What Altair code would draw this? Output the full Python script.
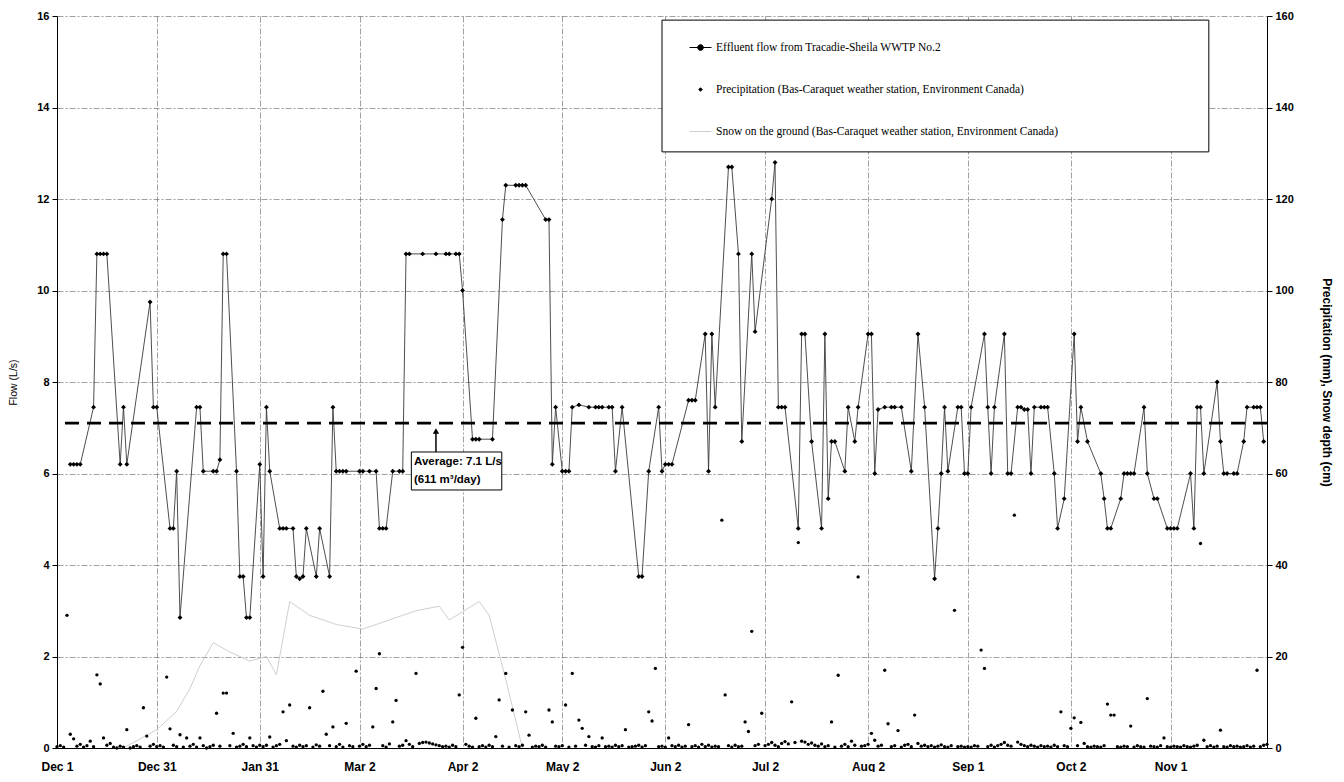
import altair as alt
import pandas as pd

# ---------------- x axis (days since Dec 1) ----------------
tick_days = [0, 30, 61, 91, 122, 152, 183, 213, 244, 274, 305, 335]
tick_labels = ["Dec 1", "Dec 31", "Jan 31", "Mar 2", "Apr 2", "May 2",
               "Jun 2", "Jul 2", "Aug 2", "Sep 1", "Oct 2", "Nov 1"]
month_offsets = [0, 31, 62, 90, 121, 151, 182, 212, 243, 274, 304, 335]

# ---------------- effluent flow (L/s) ----------------
flow_day = [4, 5, 6, 7, 11, 12, 13, 14, 15, 19, 20, 21, 28, 29, 30, 34, 35, 36, 37,
            42, 43, 44, 47, 48, 49, 50, 51, 54, 55, 56, 57, 58, 61, 62, 63, 64,
            67, 68, 69, 71, 72, 73, 74, 75, 78, 79, 82, 83, 84, 85, 86, 87,
            91, 92, 94, 96, 97, 98, 99, 101, 103, 104, 105, 106, 110, 114, 117, 118,
            120, 121, 122, 125, 126, 127, 131, 134, 135, 138, 139, 140, 141, 147, 148,
            149, 150, 152, 153, 154, 155, 157, 160, 162, 163, 164, 166, 167, 168, 170,
            175, 176, 178, 181, 182, 183, 184, 185, 190, 191, 192, 195, 196, 197, 198,
            202, 203, 205, 206, 209, 210, 215, 216, 217, 218, 219, 223, 224, 225, 227,
            230, 231, 232, 233, 234, 237, 238, 240, 241, 244, 245, 246, 247, 249, 251,
            252, 254, 257, 259, 261, 264, 265, 266, 267, 268, 271, 272, 273, 274, 275,
            279, 280, 281, 282, 285, 286, 287, 289, 290, 291, 292, 293, 294, 296, 297,
            298, 300, 301, 303, 306, 307, 308, 310, 314, 315, 316, 317, 320, 321, 322,
            323, 324, 327, 328, 330, 331, 334, 335, 336, 337, 341, 342, 343, 344, 345,
            349, 350, 351, 352, 354, 355, 357, 358, 360, 361, 362, 363]
flow_ls = [6.2, 6.2, 6.2, 6.2, 7.45, 10.8, 10.8, 10.8, 10.8, 6.2, 7.45, 6.2, 9.75, 7.45, 7.45, 4.8, 4.8, 6.05, 2.85,
           7.45, 7.45, 6.05, 6.05, 6.05, 6.3, 10.8, 10.8, 6.05, 3.75, 3.75, 2.85, 2.85, 6.2, 3.75, 7.45, 6.05,
           4.8, 4.8, 4.8, 4.8, 3.75, 3.7, 3.75, 4.8, 3.75, 4.8, 3.75, 7.45, 6.05, 6.05, 6.05, 6.05,
           6.05, 6.05, 6.05, 6.05, 4.8, 4.8, 4.8, 6.05, 6.05, 6.05, 10.8, 10.8, 10.8, 10.8, 10.8, 10.8,
           10.8, 10.8, 10.0, 6.75, 6.75, 6.75, 6.75, 11.55, 12.3, 12.3, 12.3, 12.3, 12.3, 11.55, 11.55,
           6.2, 7.45, 6.05, 6.05, 6.05, 7.45, 7.5, 7.45, 7.45, 7.45, 7.45, 7.45, 7.45, 6.05, 7.45,
           3.75, 3.75, 6.05, 7.45, 6.05, 6.2, 6.2, 6.2, 7.6, 7.6, 7.6, 9.05, 6.05, 9.05, 7.45,
           12.7, 12.7, 10.8, 6.7, 10.8, 9.1, 12.0, 12.8, 7.45, 7.45, 7.45, 4.8, 9.05, 9.05, 6.7,
           4.8, 9.05, 5.45, 6.7, 6.7, 6.05, 7.45, 6.7, 7.45, 9.05, 9.05, 6.0, 7.4, 7.45, 7.45,
           7.45, 7.45, 6.05, 9.05, 7.45, 3.7, 4.8, 6.0, 7.45, 6.05, 7.45, 7.45, 6.0, 6.0, 7.45,
           9.05, 7.45, 6.0, 7.45, 9.05, 6.0, 6.0, 7.45, 7.45, 7.4, 7.4, 6.0, 7.45, 7.45, 7.45,
           7.45, 6.0, 4.8, 5.45, 9.05, 6.7, 7.45, 6.7, 6.0, 5.45, 4.8, 4.8, 5.45, 6.0, 6.0,
           6.0, 6.0, 7.45, 6.0, 5.45, 5.45, 4.8, 4.8, 4.8, 4.8, 6.0, 4.8, 7.45, 7.45, 6.0,
           8.0, 6.7, 6.0, 6.0, 6.0, 6.0, 6.7, 7.45, 7.45, 7.45, 7.45, 6.7]

# ---------------- daily precipitation (mm), one list per month ----------------
precip_dec = [0.3, 0.5, 0.2, 29, 3, 2, 0.4, 0.8, 0.2, 0.5, 1.5, 0.3, 16, 14, 2.2, 0.6, 1.0, 0.2, 0, 0.4,
              0.2, 4, 0, 0.3, 0.5, 0.2, 8.8, 2.6, 0.4, 0.8, 0.3]
precip_jan = [0.5, 0.2, 15.5, 4.2, 0.6, 0.3, 2.9, 0.2, 2.2, 0.4, 0.8, 0.2, 2.2, 0.5, 0, 0.3, 0.6, 7.6, 0.4,
              12, 12, 0.5, 3.2, 0.2, 0.4, 0.8, 0.3, 2.2, 0.5, 0.2, 0.6]
precip_feb = [0.3, 0.6, 2.4, 0.2, 0.5, 0.8, 7.9, 1.6, 9.4, 0.4, 0.2, 0.6, 0.3, 0.5, 8.8, 0.2, 0.7, 0.4,
              12.4, 3, 0.5, 4.6, 0.3, 0.8, 0.2, 5.4, 0.5, 0.3]
precip_mar = [16.8, 0.4, 0.8, 0.3, 0.6, 4.6, 13, 20.6, 0.5, 0.2, 0.9, 5.7, 10.4, 0.4, 0.6, 1.6, 0.8, 0.3,
              16.3, 1.0, 1.2, 1.3, 1.1, 0.9, 0.7, 0.5, 0.3, 0.4, 0.2, 0.6, 0.3]
precip_apr = [11.6, 22, 0.8, 0.4, 0.2, 6.5, 0.3, 0.5, 0.2, 0.6, 0.3, 2.5, 10.5, 0.4, 16.3, 0.2, 8.3, 0.5,
              0.3, 0.6, 7.9, 2.8, 0.2, 0.4, 0.3, 0.6, 0.2, 8.3, 5.7, 0.4]
precip_may = [0.3, 0.5, 9.4, 0.2, 16.3, 0.4, 6.1, 4.3, 0.6, 2.5, 0.3, 0.2, 0.5, 2.2, 0.3, 0.4, 0.2, 0.6,
              0.3, 0.5, 4.0, 0.2, 0.3, 0.4, 0.6, 0.2, 0.5, 7.9, 5.9, 17.4, 0.3]
precip_jun = [0.4, 0.2, 2.2, 0.5, 0.3, 0.6, 0.2, 0.4, 5.1, 0.3, 0.5, 0.2, 0.8, 0.3, 0.6, 0.2, 0.4, 0.3,
              49.8, 11.6, 0.5, 0.2, 0.6, 0.3, 0.4, 5.7, 3.6, 25.5, 0.5, 0.8]
precip_jul = [7.6, 0.5, 0.8, 1.2, 0.6, 0.3, 1.0, 1.4, 0.9, 10.1, 1.2, 44.9, 1.5, 1.3, 0.8, 1.1, 0.6, 0.4,
              0.9, 0.3, 0.5, 5.7, 0.2, 15.9, 0.4, 0.8, 0.3, 1.5, 0.6, 37.4, 0.4]
precip_aug = [0.5, 0.8, 3.2, 1.7, 0.4, 0.6, 17, 5.3, 0.3, 0.5, 3.8, 0.2, 0.6, 0.8, 0.3, 7.2, 1.0, 0.4,
              0.6, 0.3, 0.5, 0.2, 0.4, 0.7, 0.3, 0.2, 0.5, 30.1, 0.3, 0.4, 0.2]
precip_sep = [0.3, 0.2, 0.5, 0.4, 21.4, 17.4, 0.3, 0.6, 0.2, 0.5, 0.8, 1.2, 0.6, 0.4, 50.9, 1.3, 0.8, 0.5,
              0.3, 0.6, 0.4, 0.2, 0.5, 0.3, 0.4, 0.2, 0.6, 0.3, 7.9, 0.5]
precip_oct = [0.3, 4.3, 6.6, 0.5, 5.6, 1.0, 0.3, 0.2, 0.4, 0.3, 0.2, 0.5, 9.6, 7.2, 7.2, 0.3, 0.2, 0.4,
              0.3, 4.8, 0.2, 0.5, 0.3, 0.2, 10.8, 0.4, 0.3, 0.2, 0.5, 2.2, 0.3]
precip_nov = [0.2, 0.4, 0.3, 0.2, 0.5, 0.3, 0.2, 0.4, 0.6, 44.7, 1.7, 0.3, 0.5, 0.2, 0.4, 3.9, 0.3, 0.2,
              0.5, 0.3, 0.4, 0.2, 0.3, 0.5, 0.2, 0.4, 17, 0.3, 0.6, 0.8]

# ---------------- snow on the ground (cm) ----------------
snow_day = [20, 30, 36, 40, 43, 47, 52, 58, 63, 66, 70, 76, 84, 92, 100, 108, 115, 118, 127, 130, 135, 140]
snow_cm = [0, 4, 8, 13, 18, 23, 21, 19, 20, 16, 32, 29, 27, 26, 28, 30, 31, 28, 32, 29, 15, 0]

average_flow = 7.1
average_text = ["Average: 7.1 L/s", "(611 m³/day)"]

series_names = ["Effluent flow from Tracadie-Sheila WWTP No.2",
                "Precipitation (Bas-Caraquet weather station, Environment Canada)",
                "Snow on the ground (Bas-Caraquet weather station, Environment Canada)"]

# ---------------- tables ----------------
flow_df = pd.DataFrame({"day": flow_day, "flow": flow_ls})
months = [precip_dec, precip_jan, precip_feb, precip_mar, precip_apr, precip_may,
          precip_jun, precip_jul, precip_aug, precip_sep, precip_oct, precip_nov]
p_days, p_vals = [], []
for off, vals in zip(month_offsets, months):
    for i, v in enumerate(vals):
        p_days.append(off + i)
        p_vals.append(v)
precip_df = pd.DataFrame({"day": p_days, "value": p_vals})
snow_df = pd.DataFrame({"day": snow_day, "value": snow_cm})

FONT = "Liberation Sans"
NARROW = "Liberation Sans Narrow"
GRID = dict(grid=True, gridColor="#777777", gridDash=[6, 2, 2, 2], gridWidth=0.7)

label_expr = ("[" + ",".join("'%s'" % t for t in tick_labels) + "][indexof(["
              + ",".join(str(d) for d in tick_days) + "], datum.value)]")
xscale = alt.Scale(domain=[0, 364], nice=False, zero=False)
xenc = alt.X("day:Q", scale=xscale,
             axis=alt.Axis(values=tick_days, labelExpr=label_expr, title=None, ticks=False,
                           labelPadding=13, labelFlush=False, labelOverlap=False,
                           domainColor="black", labelFont=FONT, labelFontWeight="bold",
                           labelFontSize=12, labelColor="black", **GRID))
yleft = alt.Y("flow:Q", scale=alt.Scale(domain=[0, 16], nice=False),
              axis=alt.Axis(values=list(range(0, 17, 2)), title="Flow (L/s)", titleFont=FONT,
                            titleFontSize=10.5, titleFontWeight="normal", titleColor="black",
                            titlePadding=18, labelPadding=3, tickSize=5, tickColor="black",
                            domainColor="black", labelFont=FONT, labelFontWeight="bold",
                            labelFontSize=11, labelColor="black", **GRID))

# ---- left (flow) group ----
flow_line = alt.Chart(flow_df).mark_line(color="#3a3a3a", strokeWidth=0.9).encode(x=xenc, y=yleft)
flow_pts = alt.Chart(flow_df).mark_point(shape="diamond", filled=True, size=24, color="black",
                                         opacity=1).encode(x=xenc, y=yleft)
avg_rule = alt.Chart(pd.DataFrame({"flow": [average_flow]})).mark_rule(
    color="black", strokeWidth=2.6, strokeDash=[14, 8]).encode(y=yleft)

legend_box = alt.Chart(pd.DataFrame({"day": [182.0], "day2": [346.5], "flow": [15.91], "flow2": [13.03]})
                       ).mark_rect(fill="white", stroke="black", strokeWidth=1).encode(
    x=xenc, x2="day2:Q", y=yleft, y2="flow2:Q")

ann_box = alt.Chart(pd.DataFrame({"day": [106.6], "day2": [133.8], "flow": [6.47], "flow2": [5.64]})
                    ).mark_rect(fill="white", stroke="black", strokeWidth=1).encode(
    x=xenc, x2="day2:Q", y=yleft, y2="flow2:Q")
ann_arrow = alt.Chart(pd.DataFrame({"day": [114.0], "flow": [6.47], "flow2": [6.9]})).mark_rule(
    color="black", strokeWidth=1.5).encode(x=xenc, y=yleft, y2="flow2:Q")
ann_head = alt.Chart(pd.DataFrame({"day": [114.0], "flow": [6.93]})).mark_point(
    shape="triangle-up", filled=True, size=40, color="black", opacity=1).encode(x=xenc, y=yleft)
ann_text = alt.Chart(pd.DataFrame({"day": [107.4, 107.4], "flow": [6.26, 5.85], "label": average_text})
                     ).mark_text(align="left", baseline="middle", font=FONT, fontWeight="bold",
                                 fontSize=11.5, color="black").encode(x=xenc, y=yleft, text="label:N")

left = alt.layer(flow_line, flow_pts, avg_rule, legend_box, ann_box, ann_arrow, ann_head, ann_text)

# ---- right (precipitation / snow) group ----
yright = alt.Y("value:Q", scale=alt.Scale(domain=[0, 160], nice=False),
               axis=alt.Axis(orient="right", values=list(range(0, 161, 20)), grid=False,
                             title="Precipitation (mm), Snow depth (cm)", titleFont=FONT,
                             titleFontSize=12, titleFontWeight="bold", titleColor="black",
                             titlePadding=26, labelPadding=3, tickSize=5, tickColor="black",
                             domainColor="black", labelFont=FONT, labelFontWeight="bold",
                             labelFontSize=11, labelColor="black"))
snow_line = alt.Chart(snow_df).mark_line(color="#cfcfcf", strokeWidth=1).encode(x=xenc, y=yright)
precip_pts = alt.Chart(precip_df).mark_circle(size=11, color="black", opacity=1).encode(x=xenc, y=yright)

series_symbols = ["M-1,0L1,0M0.26,0A0.26,0.26,0,1,1,-0.26,0A0.26,0.26,0,1,1,0.26,0Z",
                  "M0,-0.16L0.16,0L0,0.16L-0.16,0Z",
                  "M-1,0L1,0"]
series_fills = ["black", "black", "transparent"]
series_strokes = ["black", "black", "#cfcfcf"]
leg = alt.Legend(orient="none", legendX=632, legendY=20, title=None, padding=0,
                 symbolSize=484, symbolStrokeWidth=1, symbolOpacity=1,
                 labelFont=NARROW, labelFontSize=11.5, labelColor="black", labelOffset=4,
                 labelLimit=600, rowPadding=25)
legend_layer = alt.Chart(pd.DataFrame({"series": series_names})).mark_point(filled=True, opacity=1).encode(
    x=alt.value(0), y=alt.value(0),
    shape=alt.Shape("series:N", scale=alt.Scale(domain=series_names, range=series_symbols), legend=leg),
    fill=alt.Fill("series:N", scale=alt.Scale(domain=series_names, range=series_fills), legend=leg),
    stroke=alt.Stroke("series:N", scale=alt.Scale(domain=series_names, range=series_strokes), legend=leg),
).transform_filter("false")

right = alt.layer(snow_line, precip_pts, legend_layer)

chart = alt.layer(left, right).resolve_scale(y="independent").properties(
    width=1210, height=732, padding={"left": 0, "top": 2, "right": 0, "bottom": 0}
).configure_view(stroke=None)

chart.save("out.html", embed_options={"renderer": "svg", "actions": False})
